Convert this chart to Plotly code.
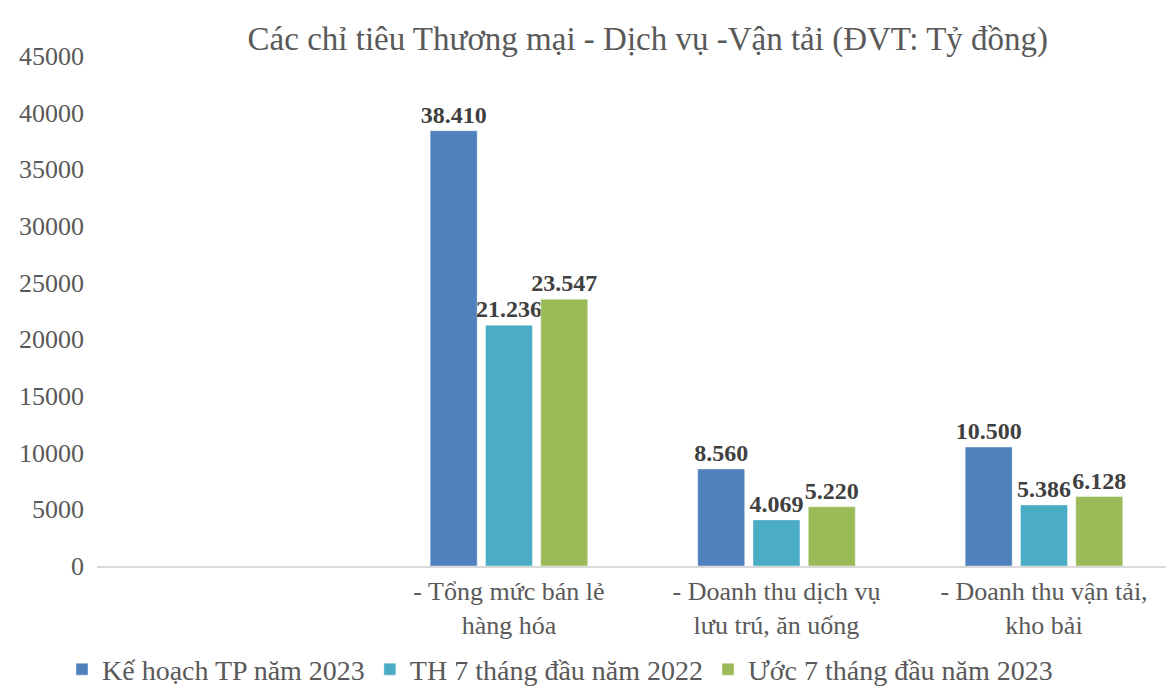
import plotly.graph_objects as go

categories = [" ", "- Tổng mức bán lẻ<br>hàng hóa", "- Doanh thu dịch vụ<br>lưu trú, ăn uống", "- Doanh thu vận tải,<br>kho bải"]
series_names = ["Kế hoạch TP năm 2023", "TH 7 tháng đầu năm 2022", "Ước 7 tháng đầu năm 2023"]
ke_hoach_2023 = [None, 38410, 8560, 10500]
th_7_thang_2022 = [None, 21236, 4069, 5386]
uoc_7_thang_2023 = [None, 23547, 5220, 6128]
colors = ["#4F81BD", "#4BACC6", "#9BBB59"]
y_ticks = [0, 5000, 10000, 15000, 20000, 25000, 30000, 35000, 40000, 45000]

SERIF = "Liberation Serif, Times New Roman, serif"

fig = go.Figure()
for name, vals, col in zip(series_names, [ke_hoach_2023, th_7_thang_2022, uoc_7_thang_2023], colors):
    fig.add_trace(go.Bar(
        x=categories, y=vals, name=name,
        marker=dict(color=col, line=dict(color="rgba(255,255,255,0.4)", width=1)),
        texttemplate="%{y:,}", textposition="outside", cliponaxis=False,
        constraintext="none",
        textfont=dict(family=SERIF, size=24, color="#404040", weight="bold"),
    ))

fig.update_layout(
    width=1174, height=689,
    separators=",.",
    paper_bgcolor="white", plot_bgcolor="white",
    margin=dict(l=89, r=8, t=48, b=131, autoexpand=False),
    barmode="group", bargap=0.38, bargroupgap=0.15,
    title=dict(text="Các chỉ tiêu Thương mại - Dịch vụ -Vận tải (ĐVT: Tỷ đồng)",
               x=0.545, xanchor="center", y=0.956, yanchor="middle",
               font=dict(family=SERIF, size=33, color="#595959")),
    font=dict(family=SERIF, color="#595959"),
    showlegend=True,
    legend=dict(orientation="h", xref="container", x=0.046, xanchor="left",
                yref="container", y=0.04, yanchor="middle",
                font=dict(family=SERIF, size=28, color="#595959"),
                itemwidth=30, traceorder="normal"),
)
fig.update_xaxes(type="category", categoryarray=categories, range=[-0.54, 3.486],
                 showline=True, linecolor="#D9D9D9", linewidth=1.5, showgrid=False,
                 ticks="", ticklabelstandoff=1,
                 tickfont=dict(family=SERIF, size=26, color="#595959"))
fig.update_yaxes(range=[0, 45000], tickvals=y_ticks, tickformat="d", showgrid=False,
                 zeroline=False, showline=False, ticks="", ticklabelstandoff=12,
                 tickfont=dict(family=SERIF, size=26, color="#595959"))

fig.write_html("out.html")
